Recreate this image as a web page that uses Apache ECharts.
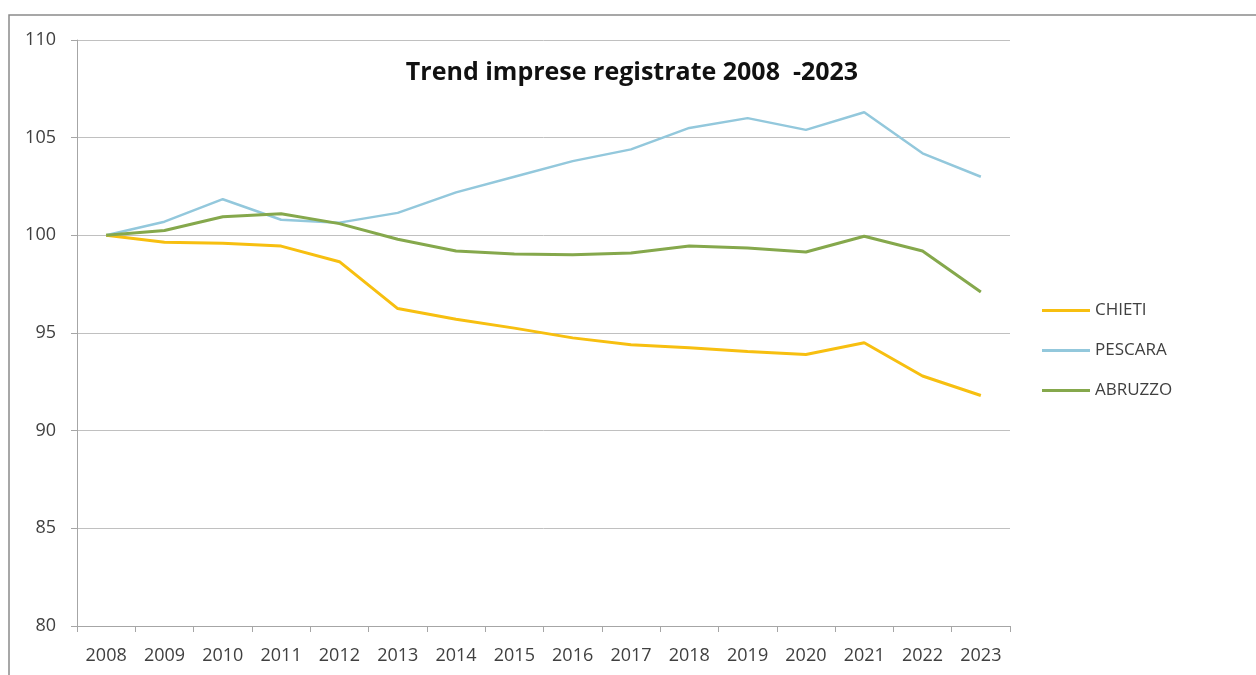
<!DOCTYPE html>
<html>
<head>
<meta charset="utf-8">
<script src="https://cdn.jsdelivr.net/npm/echarts@6/dist/echarts.min.js"></script>
<style>
html,body{margin:0;padding:0;background:#fff;}
#chart{width:1256px;height:675px;}
</style>
</head>
<body>
<div id="chart"></div>
<script>
const years = ['2008','2009','2010','2011','2012','2013','2014','2015','2016','2017','2018','2019','2020','2021','2022','2023'];
const chieti = [100, 99.65, 99.6, 99.45, 98.65, 96.25, 95.7, 95.25, 94.75, 94.4, 94.25, 94.05, 93.9, 94.5, 92.8, 91.8];
const pescara = [100, 100.7, 101.85, 100.8, 100.65, 101.15, 102.2, 103.0, 103.8, 104.4, 105.5, 106.0, 105.4, 106.3, 104.2, 103.0];
const abruzzo = [100, 100.25, 100.95, 101.1, 100.6, 99.8, 99.2, 99.05, 99.0, 99.1, 99.45, 99.35, 99.15, 99.95, 99.2, 97.1];
const titleText = 'Trend imprese registrate 2008  -2023';

const chart = echarts.init(document.getElementById('chart'), null, {renderer: 'canvas'});
const font = 'Open Sans, Noto Sans, sans-serif';
chart.setOption({
  animation: false,
  backgroundColor: '#ffffff',
  title: {
    text: titleText,
    left: 627, top: 55, textAlign: 'center',
    textStyle: {fontFamily: 'Open Sans, sans-serif', fontWeight: 'bold', fontSize: 25, color: '#111'}
  },
  graphic: [
    {type: 'polyline', shape: {points: [[9, 680], [9, 15], [1260, 15]]},
     style: {stroke: '#8a8a8a', lineWidth: 1.5, fill: null}, z: 10}
  ],
  legend: {
    orient: 'vertical',
    left: 1037, top: 297,
    itemWidth: 48, itemHeight: 3, itemGap: 23,
    icon: 'rect',
    textStyle: {fontFamily: font, fontSize: 17, color: '#404040'},
    data: ['CHIETI', 'PESCARA', 'ABRUZZO']
  },
  grid: {left: 77, right: 246, top: 40, bottom: 49, containLabel: false},
  xAxis: {
    type: 'category',
    data: years,
    boundaryGap: true,
    axisLine: {lineStyle: {color: '#a6a6a6', width: 1}},
    axisTick: {show: true, length: 6, lineStyle: {color: '#a6a6a6'}},
    axisLabel: {fontFamily: font, fontSize: 18, color: '#404040', margin: 21}
  },
  yAxis: {
    type: 'value',
    min: 80, max: 110, interval: 5,
    axisLine: {show: true, lineStyle: {color: '#a6a6a6', width: 1}},
    axisTick: {show: true, length: 6, lineStyle: {color: '#a6a6a6'}},
    splitLine: {lineStyle: {color: '#c0c0c0', width: 1}},
    axisLabel: {fontFamily: font, fontSize: 18, color: '#404040', margin: 21}
  },
  series: [
    {name: 'CHIETI', type: 'line', data: chieti, symbol: 'none', color: '#f7bf10',
     lineStyle: {width: 3, color: '#f7bf10'}, z: 3},
    {name: 'PESCARA', type: 'line', data: pescara, symbol: 'none', color: '#93c8dc',
     lineStyle: {width: 2.5, color: '#93c8dc'}, z: 2},
    {name: 'ABRUZZO', type: 'line', data: abruzzo, symbol: 'none', color: '#85a84c',
     lineStyle: {width: 3, color: '#85a84c'}, z: 4}
  ]
});
</script>
</body>
</html>
